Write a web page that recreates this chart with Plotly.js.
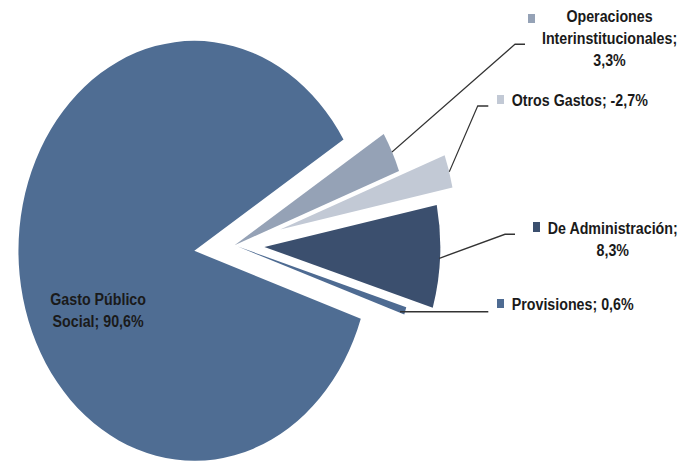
<!DOCTYPE html>
<html><head><meta charset="utf-8">
<script src="https://cdn.plot.ly/plotly-3.0.1.min.js"></script>
<style>
html,body{margin:0;padding:0;width:696px;height:461px;overflow:hidden;background:#fff;}
#chart{position:absolute;left:0;top:-60px;width:831px;height:581px;transform:scaleX(0.83755);transform-origin:0 0;}
</style></head><body><div id="chart"></div>
<script>
// ---- data ----
const labels = ['Gasto Público Social', 'Operaciones Interinstitucionales', 'Otros Gastos', 'De Administración', 'Provisiones'];
const values = [90.6, 3.3, -2.7, 8.3, 0.6];
const labelNames = ['Gasto Público<br>Social;', 'Operaciones<br>Interinstitucionales;', 'Otros Gastos;', 'De Administración;', 'Provisiones;'];
const labelJoin = [' ', '<br>', ' ', '<br>', ' '];
const colors = ['#4F6D93', '#95A2B6', '#C2C9D5', '#3B4F6E', '#4E6B92'];

// ---- geometry helpers (reference-pixel -> paper) ----
const W = 831, H = 581, P = 60;
const px = rx => rx / 696;
const py = ry => 1 - (ry + P) / H;

const fmt = v => v.toFixed(1).replace('.', ',') + '%';
const texts = labels.map((l, i) => labelNames[i] + labelJoin[i] + fmt(values[i]));

// label placement (reference pixels)
const labelPos = [
  {x: 98, y: 311, xanchor: 'center'},
  {x: 610, y: 39, xanchor: 'center'},
  {x: 510, y: 100, xanchor: 'left'},
  {x: 613, y: 239, xanchor: 'center'},
  {x: 510, y: 304, xanchor: 'left'}
];
const keyBox = [null, [528, 14, 535, 23], [497, 95, 504, 104], [533, 222, 540, 232], [497, 299, 504, 308]];
const leaders = [null,
  [[392, 152], [515, 44.3], [525, 44.3]],
  [[449.3, 171.7], [477.7, 106], [488.3, 106]],
  [[439.3, 258.3], [505, 234.3], [515, 234.3]],
  [[400, 311.7], [488.3, 311.7]]
];

const annotations = texts.map((t, i) => ({
  xref: 'paper', yref: 'paper', x: px(labelPos[i].x), y: py(labelPos[i].y),
  xanchor: labelPos[i].xanchor, yanchor: 'middle', align: 'center',
  text: t, showarrow: false,
  font: {family: 'Liberation Sans, Arial, sans-serif', size: 17, color: '#1a1a1a', weight: 'bold'}
}));

const shapes = [];
keyBox.forEach((b, i) => {
  if (!b) return;
  shapes.push({type: 'rect', xref: 'paper', yref: 'paper',
    x0: px(b[0]), x1: px(b[2]), y0: py(b[3]), y1: py(b[1]),
    fillcolor: colors[i], line: {width: 0}});
});
leaders.forEach(pts => {
  if (!pts) return;
  const d = pts.map((p, j) => (j ? 'L' : 'M') + px(p[0]) + ',' + py(p[1])).join(' ');
  shapes.push({type: 'path', xref: 'paper', yref: 'paper', path: d, line: {color: '#333333', width: 1.4}});
});

const trace = {
  type: 'pie',
  labels: labels,
  values: values.map(Math.abs),
  sort: false,
  direction: 'clockwise',
  rotation: 108.85,
  pull: [0.23, 0, 0.27, 0.17, 0.02],
  marker: {colors: colors, line: {width: 0}},
  textinfo: 'none',
  hoverinfo: 'skip',
  domain: {x: [0.016, 0.6579], y: [0.01549, 0.93356]}
};

const layout = {
  width: W, height: H,
  margin: {l: 0, r: 0, t: 0, b: 0},
  paper_bgcolor: '#ffffff',
  showlegend: false,
  annotations: annotations,
  shapes: shapes
};

Plotly.newPlot('chart', [trace], layout, {displayModeBar: false, staticPlot: true});
</script></body></html>
